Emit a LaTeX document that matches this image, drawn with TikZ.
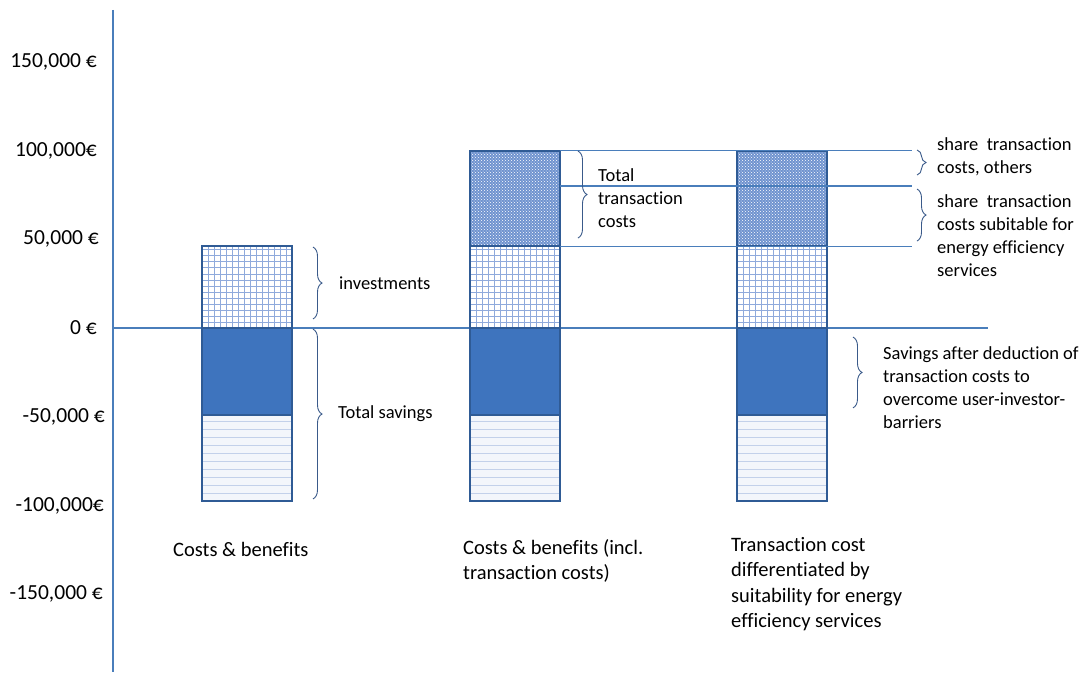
\documentclass[tikz,border=0pt]{standalone}
\usepackage{fontspec}
\setmainfont[Ligatures=NoCommon]{Carlito}
\usetikzlibrary{patterns}
\usetikzlibrary{decorations.pathreplacing}

\definecolor{axisblue}{HTML}{4A7EBB}
\definecolor{barblue}{HTML}{3E74BE}
\definecolor{edgeblue}{HTML}{2F5B95}
\definecolor{gridblue}{HTML}{8FAADC}
\definecolor{stripeblue}{HTML}{C3D1EA}
\definecolor{stripefill}{HTML}{F3F6FB}
\definecolor{dotblue}{HTML}{6F93CF}
\definecolor{bracegray}{HTML}{3A5A8A}

\tikzset{
  curly/.style={decorate,decoration={brace,amplitude=9pt},bracegray,line width=0.9pt},
  note/.style={anchor=west,align=left,inner sep=0pt,font=\fontsize{18.5}{23}\selectfont},
  catlabel/.style={anchor=west,align=left,inner sep=0pt,font=\fontsize{20.5}{25.5}\selectfont},
  ticklabel/.style={anchor=east,inner sep=0pt,font=\fontsize{21.5}{24}\selectfont},
  baredge/.style={edgeblue,line width=2pt},
  leader/.style={axisblue,line width=1.3pt}
}

\begin{document}
\begin{tikzpicture}[x=1pt,y=1.775pt]

    \useasboundingbox (0,-193.8) rectangle (1083,184.8);

    % axes
    \draw [axisblue,line width=1.5pt] (113,179.2) -- (113,-193.8);
    \draw [axisblue,line width=1.5pt] (113,0) -- (988,0);

    % tick labels
    \foreach \v/\xe/\t in {150/97/150{,}000 €, 100/97/100{,}000€, 50/99/50{,}000 €, 0/97/0 €,
                           -50/105/-50{,}000 €, -100/104/-100{,}000€, -150/103/-150{,}000 €}
        \node [ticklabel] (tick\v) at (\xe,\v) {\t};

    % bars: savings, investments
    \foreach \bx in {202,470,737} {
        \fill [stripefill] (\bx,-97.5) rectangle (\bx+90,-49);
        \foreach \s in {1,...,10}
            \draw [stripeblue,thin] (\bx,-97.5+\s*4.5) -- (\bx+90,-97.5+\s*4.5);
        \draw [baredge] (\bx,-97.5) rectangle (\bx+90,-49);

        \fill [barblue] (\bx,-49) rectangle (\bx+90,0);
        \draw [baredge] (\bx,-49) rectangle (\bx+90,0);

        \fill [white] (\bx,0) rectangle (\bx+90,46);
        \foreach \i in {1,...,14}
            \draw [gridblue,thin] (\bx+\i*6,0) -- (\bx+\i*6,46);
        \foreach \j in {1,...,13}
            \draw [gridblue,thin] (\bx,\j*3.4) -- (\bx+90,\j*3.4);
        \draw [baredge] (\bx,0) rectangle (\bx+90,46);
    }

    % bars: transaction costs
    \foreach \bx in {470,737} {
        \fill [dotblue] (\bx,46) rectangle (\bx+90,100);
        \fill [pattern=crosshatch dots,pattern color=white] (\bx,46) rectangle (\bx+90,100);
        \draw [baredge] (\bx,46) rectangle (\bx+90,100);
    }

    % leader lines
    \coordinate (tcTop) at (560,100);
    \coordinate (tcMid) at (560,80);
    \coordinate (tcLow) at (560,46);
    \draw [leader] (tcTop) -- (912,100);
    \draw [leader] (tcMid) -- (912,80);
    \draw [leader] (tcLow) -- (912,46);

    % braces
    \draw [curly] (313,45.6) -- (313,5.1);
    \draw [curly] (313,-0.6) -- (313,-96.3);
    \draw [curly] (578,99.7) -- (578,50.7);
    \draw [curly] (917,100.3) -- (917,86.2);
    \draw [curly] (917,78.3) -- (917,49);
    \draw [curly] (853,-5.1) -- (853,-45);

    % brace labels
    \node [note] (invest) at (339,25.4) {investments};
    \node [note] (totSav) at (338,-48.5) {Total savings};
    \node [note] (totTC) at (598,73) {Total\\transaction\\costs};
    \node [note] (shareOth) at (937,96.6) {share\ \ transaction\\costs, others};
    \node [note] (shareEES) at (937,51.8) {share\ \ transaction\\costs subitable for\\energy efficiency\\services};
    \node [note] (savAfter) at (883,-33.5) {Savings after deduction of\\transaction costs to\\overcome user-investor-\\barriers};

    % categories
    \node [catlabel] (cat1) at (173,-124.5) {Costs \& benefits};
    \node [catlabel] (cat2) at (463,-131.3) {Costs \& benefits (incl.\\transaction costs)};
    \node [catlabel] (cat3) at (731,-144.2) {Transaction cost\\differentiated by\\suitability for energy\\efficiency services};
\end{tikzpicture}
\end{document}
